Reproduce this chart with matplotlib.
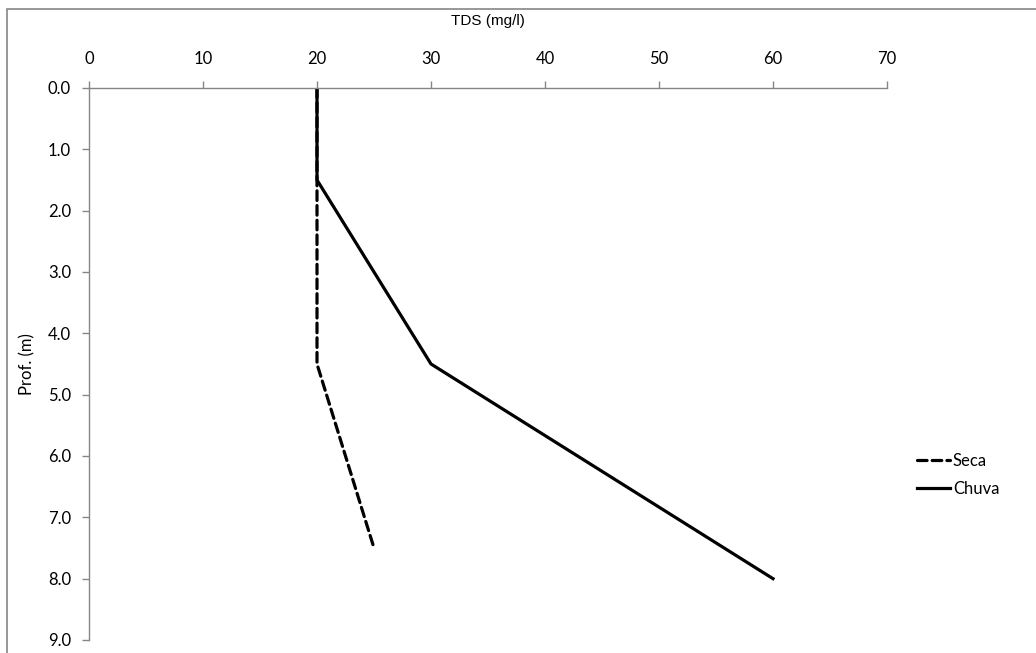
import matplotlib.pyplot as plt
from matplotlib.patches import Rectangle

# TDS profiles by depth
prof_seca = [0.0, 1.5, 4.5, 7.5]
tds_seca = [20, 20, 20, 25]
prof_chuva = [0.0, 1.5, 4.5, 8.0]
tds_chuva = [20, 20, 30, 60]

x_ticks = [0, 10, 20, 30, 40, 50, 60, 70]
y_ticks = [0, 1, 2, 3, 4, 5, 6, 7, 8, 9]

axis_grey = "#868686"
body_font = ["Lato", "DejaVu Sans"]

fig = plt.figure(figsize=(10.36, 6.53), dpi=100)
ax = fig.add_axes([89 / 1036, 1 - 640 / 653, (887 - 89) / 1036, (640 - 88) / 653])

# chart frame
fig.patches.append(Rectangle((7 / 1036, -0.05), 1.1, 1 - 9 / 653 + 0.05,
                             transform=fig.transFigure, fill=False,
                             edgecolor=axis_grey, linewidth=1.2))

ax.plot(tds_seca, prof_seca, color="black", linewidth=2.3,
        dashes=(3, 1.6), dash_capstyle="round", label="Seca")
ax.plot(tds_chuva, prof_chuva, color="black", linewidth=2.3, label="Chuva")

ax.set_xlim(0, 70)
ax.set_ylim(9, 0)
ax.set_xticks(x_ticks)
ax.set_yticks(y_ticks)
ax.set_yticklabels([f"{v:.1f}" for v in y_ticks])
ax.xaxis.tick_top()
ax.xaxis.set_label_position("top")

for side in ["right", "bottom"]:
    ax.spines[side].set_visible(False)
for side in ["left", "top"]:
    ax.spines[side].set_color(axis_grey)
    ax.spines[side].set_linewidth(1.0)

ax.tick_params(axis="both", direction="out", length=5, width=1.0,
               color=axis_grey, labelsize=12)
ax.tick_params(axis="x", pad=10)
ax.tick_params(axis="y", pad=8)
for lbl in ax.get_xticklabels() + ax.get_yticklabels():
    lbl.set_family(body_font)

ax.set_xlabel("TDS (mg/l)", fontsize=11, family=["Liberation Sans", "DejaVu Sans"],
              labelpad=19)
ax.set_ylabel("Prof. (m)", fontsize=12, family=body_font, labelpad=9)

leg = fig.legend(loc="center left", bbox_to_anchor=(902 / 1036, 1 - 475 / 653),
                 frameon=False, prop={"family": body_font, "size": 12},
                 handlelength=2.0, handletextpad=0.15, labelspacing=0.7)

fig.savefig("out.png", dpi=100)
